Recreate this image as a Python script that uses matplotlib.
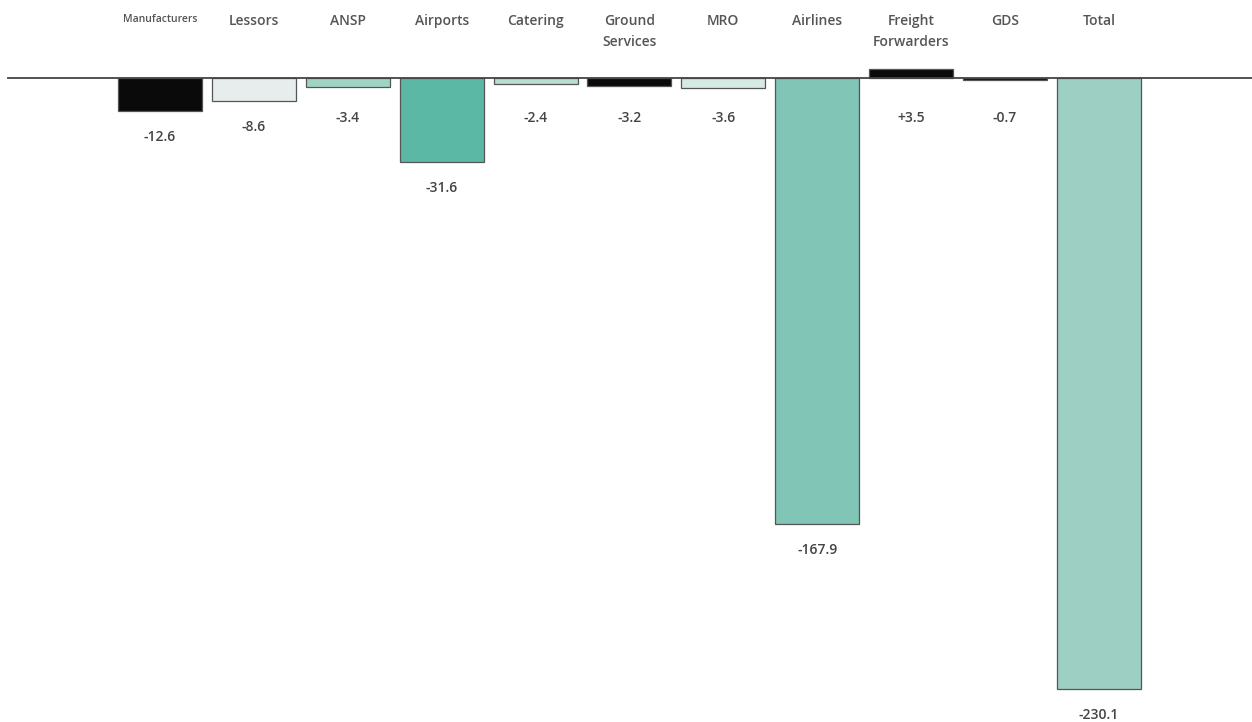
import numpy as np
import matplotlib.pyplot as plt

plt.rcParams['font.family'] = ['Open Sans', 'DejaVu Sans']

categories = ['Manufacturers', 'Lessors', 'ANSP', 'Airports', 'Catering',
              'Ground\nServices', 'MRO', 'Airlines', 'Freight\nForwarders', 'GDS', 'Total']
values = [-12.6, -8.6, -3.4, -31.6, -2.4, -3.2, -3.6, -167.9, 3.5, -0.7, -230.1]
value_labels = ['-12.6', '-8.6', '-3.4', '-31.6', '-2.4', '-3.2', '-3.6',
                '-167.9', '+3.5', '-0.7', '-230.1']
colors = ['#0a0a0a', '#e6edec', '#9fd3c3', '#5bb8a5', '#b8dccf', '#0a0a0a',
          '#d6e9e3', '#80c5b5', '#0a0a0a', '#0a0a0a', '#9dcfc3']

fig = plt.figure(figsize=(12.52, 7.22), dpi=100)
ax = fig.add_axes([0, 0, 1, 1])

px = 2.655  # pixels per unit
x = np.arange(len(values))
ax.bar(x, values, width=0.895, color=colors, edgecolor='#555555', linewidth=0.9, zorder=2)

ax.set_xlim(-1.704, 11.63)
ax.set_ylim(-(722 - 78) / px, 78 / px)
ax.axhline(0, xmin=8 / 1252, xmax=1, color='#444444', lw=1.3, zorder=3)

for i, (v, lab) in enumerate(zip(values, value_labels)):
    ly = min(v - 9.8, -15)
    ax.text(i, ly, lab, ha='center', va='center', fontsize=10, color='#444444',
            fontweight='semibold')

for i, c in enumerate(categories):
    fs = 7.5 if c == 'Manufacturers' else 10
    ax.text(i, (78 - 14) / px, c, ha='center', va='top', fontsize=fs, color='#555555',
            linespacing=1.6, fontweight='semibold')

ax.axis('off')
fig.savefig('out.png', dpi=100)
